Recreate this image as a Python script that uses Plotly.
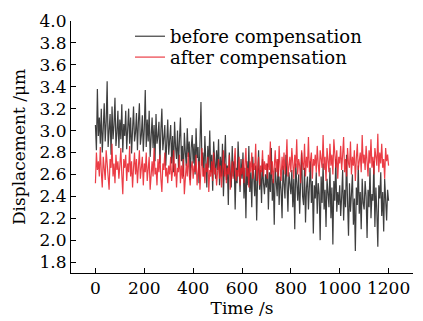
import plotly.graph_objects as go

time_s = list(range(0, 1201, 4))

before_comp = [
    3.05, 2.82, 3.38, 2.95, 3.12, 2.88, 3.20, 2.80, 3.02, 3.25, 2.90, 3.08, 3.45, 2.85, 3.00, 3.15, 2.78, 3.22, 2.92, 3.05, 3.30, 2.86, 2.98, 3.18, 2.84,
    3.10, 2.92, 3.24, 2.80, 3.06, 2.95, 3.18, 2.83, 3.00, 3.20, 2.88, 3.12, 2.79, 3.04, 3.22, 2.90, 2.98, 3.16, 2.82, 3.08, 3.25, 2.87, 2.96, 3.14, 2.81,
    3.02, 3.37, 2.85, 3.10, 2.90, 3.18, 2.76, 2.98, 3.12, 2.84, 3.05, 2.72, 3.15, 2.88, 2.95, 3.08, 2.70, 3.00, 3.20, 2.82, 2.92, 3.05, 2.68, 2.96, 3.10,
    2.78, 2.90, 3.05, 2.70, 2.95, 2.62, 3.08, 2.85, 2.74, 3.00, 2.66, 2.92, 3.12, 2.72, 2.86, 2.58, 2.98, 2.80, 2.68, 3.02, 2.76, 2.90, 2.55, 2.84, 2.96,
    2.70, 2.88, 2.60, 3.02, 2.75, 2.85, 2.52, 2.92, 3.26, 2.68, 2.80, 2.58, 2.95, 2.72, 2.48, 2.86, 2.66, 3.00, 2.62, 2.78, 2.45, 2.90, 2.70, 2.56, 2.82,
    2.64, 2.92, 2.50, 2.76, 2.58, 2.88, 2.40, 2.70, 2.96, 2.55, 2.68, 2.32, 2.80, 2.62, 2.48, 2.86, 2.58, 2.72, 2.28, 2.66, 2.52, 2.90, 2.60, 2.44, 2.74,
    2.56, 2.80, 2.38, 2.66, 2.20, 2.72, 2.50, 2.86, 2.44, 2.62, 2.30, 2.76, 2.54, 2.40, 2.68, 2.18, 2.58, 2.82, 2.46, 2.64, 2.34, 2.74, 2.52, 2.42, 2.60,
    2.48, 2.70, 2.28, 2.62, 2.44, 2.84, 2.36, 2.56, 2.14, 2.66, 2.50, 2.40, 2.74, 2.32, 2.58, 2.46, 2.20, 2.68, 2.52, 2.38, 2.78, 2.44, 2.26, 2.62, 2.50,
    2.42, 2.64, 2.30, 2.56, 2.10, 2.70, 2.46, 2.36, 2.60, 2.24, 2.52, 2.80, 2.40, 2.32, 2.66, 2.16, 2.48, 2.58, 2.28, 2.44, 2.72, 2.34, 2.54, 2.06, 2.50,
    2.38, 2.62, 2.24, 2.52, 2.42, 2.00, 2.58, 2.34, 2.70, 2.28, 2.46, 2.12, 2.56, 2.40, 2.30, 2.66, 2.20, 2.48, 1.96, 2.54, 2.36, 2.74, 2.26, 2.44, 2.32,
    2.50, 2.22, 2.40, 2.64, 2.18, 2.46, 2.30, 2.78, 2.36, 2.04, 2.52, 2.26, 2.42, 2.60, 2.14, 2.38, 1.90, 2.48, 2.32, 2.68, 2.24, 2.44, 2.10, 2.56, 2.34,
    2.28, 2.54, 2.40, 2.02, 2.46, 2.30, 2.66, 2.20, 2.42, 2.36, 2.72, 2.12, 2.48, 2.26, 1.94, 2.50, 2.38, 2.62, 2.22, 2.44, 2.08, 2.56, 2.30, 2.18, 2.46,
    2.36,
]

after_comp = [
    2.52, 2.80, 2.64, 2.72, 2.58, 2.85, 2.62, 2.48, 2.76, 2.68, 2.55, 2.82, 2.70, 2.60, 2.46, 2.74, 2.66, 2.88, 2.58, 2.70, 2.52, 2.78, 2.64, 2.72, 2.56,
    2.68, 2.84, 2.60, 2.42, 2.74, 2.66, 2.78, 2.54, 2.70, 2.62, 2.86, 2.58, 2.72, 2.48, 2.66, 2.80, 2.60, 2.74, 2.52, 2.68, 2.82, 2.56, 2.64, 2.76, 2.50,
    2.70, 2.62, 2.80, 2.54, 2.68, 2.76, 2.46, 2.64, 2.72, 2.58, 2.84, 2.60, 2.66, 2.50, 2.74, 2.62, 2.78, 2.56, 2.44, 2.70, 2.64, 2.80, 2.58, 2.66, 2.52,
    2.68, 2.60, 2.76, 2.54, 2.64, 2.82, 2.58, 2.70, 2.48, 2.66, 2.62, 2.78, 2.52, 2.68, 2.56, 2.74, 2.42, 2.64, 2.70, 2.58, 2.80, 2.60, 2.50, 2.66, 2.72,
    2.56, 2.68, 2.62, 2.78, 2.50, 2.64, 2.72, 2.46, 2.60, 2.84, 2.58, 2.66, 2.52, 2.70, 2.62, 2.76, 2.44, 2.64, 2.58, 2.72, 2.54, 2.80, 2.60, 2.66, 2.50,
    2.62, 2.74, 2.56, 2.68, 2.48, 2.64, 2.82, 2.58, 2.70, 2.52, 2.66, 2.60, 2.78, 2.46, 2.62, 2.72, 2.56, 2.68, 2.84, 2.54, 2.64, 2.58, 2.76, 2.50, 2.66,
    2.60, 2.74, 2.52, 2.68, 2.84, 2.58, 2.66, 2.48, 2.72, 2.62, 2.80, 2.56, 2.70, 2.64, 2.88, 2.54, 2.66, 2.76, 2.50, 2.68, 2.62, 2.82, 2.58, 2.72, 2.64,
    2.70, 2.56, 2.78, 2.64, 2.90, 2.60, 2.72, 2.52, 2.68, 2.82, 2.62, 2.74, 2.58, 2.86, 2.66, 2.54, 2.76, 2.64, 2.80, 2.60, 2.70, 2.92, 2.58, 2.68, 2.76,
    2.62, 2.84, 2.70, 2.56, 2.78, 2.66, 2.92, 2.60, 2.74, 2.68, 2.52, 2.82, 2.70, 2.64, 2.88, 2.58, 2.76, 2.66, 2.94, 2.62, 2.72, 2.80, 2.56, 2.74, 2.68,
    2.78, 2.62, 2.86, 2.70, 2.58, 2.82, 2.74, 2.66, 2.96, 2.64, 2.76, 2.54, 2.84, 2.70, 2.62, 2.88, 2.68, 2.78, 2.60, 2.92, 2.72, 2.66, 2.82, 2.56, 2.76,
    2.70, 2.86, 2.64, 2.78, 2.94, 2.62, 2.74, 2.58, 2.84, 2.70, 2.66, 2.90, 2.60, 2.76, 2.68, 2.82, 2.54, 2.74, 2.88, 2.64, 2.72, 2.80, 2.62, 2.96, 2.70,
    2.78, 2.64, 2.86, 2.72, 2.58, 2.82, 2.70, 2.92, 2.66, 2.76, 2.60, 2.84, 2.74, 2.68, 2.97, 2.62, 2.80, 2.70, 2.88, 2.66, 2.74, 2.56, 2.84, 2.72, 2.78,
    2.68,
]

x_ticks = [0, 200, 400, 600, 800, 1000, 1200]
y_ticks = [1.8, 2.0, 2.2, 2.4, 2.6, 2.8, 3.0, 3.2, 3.4, 3.6, 3.8, 4.0]

font_family = "DejaVu Serif"

fig = go.Figure()
fig.add_trace(go.Scatter(
    x=time_s, y=before_comp, mode="lines", name="before compensation",
    line=dict(color="rgb(15,15,15)", width=1.2), opacity=0.8, legend="legend",
))
fig.add_trace(go.Scatter(
    x=time_s, y=after_comp, mode="lines", name="after compensation",
    line=dict(color="rgb(232,28,38)", width=1.2), opacity=0.85, legend="legend2",
))

legend_common = dict(xanchor="left", yanchor="top", bgcolor="rgba(0,0,0,0)",
                     font=dict(size=18), itemwidth=30)

fig.update_layout(
    width=415, height=313,
    margin=dict(l=63, r=10, t=11, b=48),
    paper_bgcolor="white", plot_bgcolor="white",
    font=dict(family=font_family, size=17, color="black"),
    showlegend=True,
    legend=dict(x=0.1725, y=1.0118, **legend_common),
    legend2=dict(x=0.1725, y=0.929, **legend_common),
    xaxis=dict(
        range=[-100, 1300], tickvals=x_ticks, ticktext=[str(v) for v in x_ticks],
        showline=True, linecolor="black", linewidth=1, mirror=False, automargin=False,
        ticks="inside", ticklen=5, tickcolor="black", showgrid=False, zeroline=False,
        title=dict(text="Time /s", standoff=0, font=dict(size=17)),
        tickfont=dict(size=17), ticklabeloverflow="allow",
    ),
    yaxis=dict(
        range=[1.7, 4.0], tickvals=y_ticks, ticktext=[f"{v:.1f}" for v in y_ticks],
        showline=True, linecolor="black", linewidth=1, mirror=False, automargin=False,
        ticks="inside", ticklen=5, tickcolor="black", showgrid=False, zeroline=False,
        title=dict(text="Displacement /μm", standoff=9, font=dict(size=17)),
        tickfont=dict(size=17), ticklabeloverflow="allow",
    ),
)

fig.write_html("out.html")
